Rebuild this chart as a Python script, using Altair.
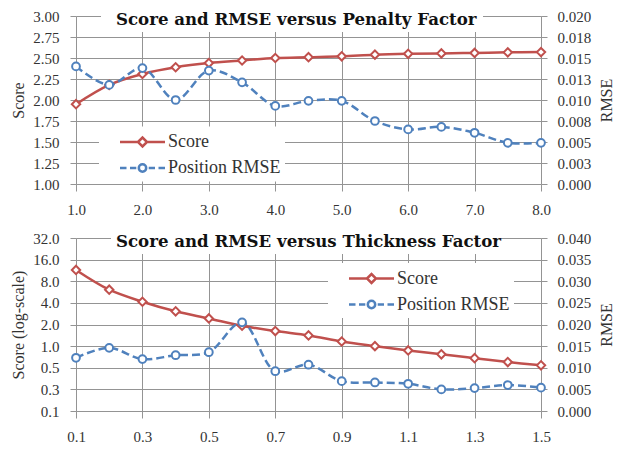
import altair as alt
import pandas as pd

# ---------------- data ----------------
series_names = ["Score", "Position RMSE"]

penalty = [1.0, 1.5, 2.0, 2.5, 3.0, 3.5, 4.0, 4.5, 5.0, 5.5, 6.0, 6.5, 7.0, 7.5, 8.0]
penalty_score = [1.95, 2.18, 2.31, 2.39, 2.44, 2.47, 2.50, 2.51, 2.52, 2.54, 2.55, 2.555, 2.56, 2.567, 2.57]
penalty_rmse = [0.0140, 0.0118, 0.0138, 0.0100, 0.0135, 0.0121, 0.0093, 0.0099, 0.0099,
                0.0075, 0.0065, 0.0068, 0.0061, 0.0049, 0.0049]

thickness = [0.1, 0.2, 0.3, 0.4, 0.5, 0.6, 0.7, 0.8, 0.9, 1.0, 1.1, 1.2, 1.3, 1.4, 1.5]
thickness_score = [11.5, 6.1, 4.15, 3.05, 2.43, 1.92, 1.62, 1.41, 1.16, 1.0, 0.87, 0.77, 0.68, 0.60, 0.54]
thickness_rmse = [0.0123, 0.0146, 0.0120, 0.0129, 0.0136, 0.0205, 0.0092, 0.0107, 0.0069,
                  0.0066, 0.0063, 0.0050, 0.0053, 0.0060, 0.0054]

penalty_ticks = [1, 2, 3, 4, 5, 6, 7, 8]
penalty_score_ticks = [1.0, 1.25, 1.5, 1.75, 2.0, 2.25, 2.5, 2.75, 3.0]
penalty_rmse_ticks = [0.0, 0.0025, 0.005, 0.0075, 0.01, 0.0125, 0.015, 0.0175, 0.02]

thickness_ticks = [0.1, 0.3, 0.5, 0.7, 0.9, 1.1, 1.3, 1.5]
thickness_score_ticks = [0.125, 0.25, 0.5, 1, 2, 4, 8, 16, 32]
thickness_rmse_ticks = [0.0, 0.005, 0.01, 0.015, 0.02, 0.025, 0.03, 0.035, 0.04]

# ---------------- style ----------------
RED = "#c0504d"
BLUE = "#4f81bd"
GRID = "#949494"
TXT = "#333333"
SERIF = "Liberation Serif"

# legend symbols: line + marker drawn as custom paths (unit = 10px at size 400)
SCORE_SYM = "M-2.25,0L-0.45,0M0.45,0L2.25,0M-0.45,0L0,-0.45L0.45,0L0,0.45Z"
RMSE_SYM = ("M-2.25,0L-1.6,0M-1.25,0L-0.62,0M0.62,0L1.25,0M1.6,0L2.25,0"
            "M-0.37,0A0.37,0.37 0 1,1 0.37,0A0.37,0.37 0 1,1 -0.37,0Z")


def panel(xv, score, rmse, xdomain, xticks, sdomain, sticks, stype, stitle,
          rdomain, rticks, title, lx, ly, rect_x0, rect_x1, h):
    df = pd.DataFrame({"x": xv, "score": score, "rmse": rmse})
    base = alt.Chart(df)

    xenc = alt.X("x:Q",
                 scale=alt.Scale(domain=xdomain, nice=False, zero=False),
                 axis=alt.Axis(values=xticks, format=".1f", title=None, grid=True,
                               gridColor=GRID, tickColor=GRID, tickSize=7,
                               labelPadding=11, domain=False, labelFont=SERIF,
                               labelFontSize=15, labelColor=TXT, labelFlush=False))
    if stype == "log":
        sscale = alt.Scale(type="log", base=2, domain=sdomain, nice=False)
    else:
        sscale = alt.Scale(domain=sdomain, nice=False, zero=False)
    yscore = alt.Y("score:Q", scale=sscale,
                   axis=alt.Axis(orient="left", values=sticks,
                                 format=".1f" if stype == "log" else ".2f",
                                 title=stitle, grid=True, gridColor=GRID,
                                 tickColor=GRID, tickSize=6, labelPadding=11,
                                 titlePadding=6, domain=False, labelFont=SERIF,
                                 labelFontSize=15, labelColor=TXT, titleFont=SERIF,
                                 titleFontSize=16, titleFontWeight="normal",
                                 titleColor=TXT, labelFlush=False))
    yrmse = alt.Y("rmse:Q", scale=alt.Scale(domain=rdomain, nice=False, zero=False),
                  axis=alt.Axis(orient="right", values=rticks,
                                labelExpr="format(datum.value + 1e-9, '.3f')",
                                title="RMSE", grid=False, tickColor=GRID, tickSize=6,
                                labelPadding=10, titlePadding=8, domain=False,
                                labelFont=SERIF, labelFontSize=15, labelColor=TXT,
                                titleFont=SERIF, titleFontSize=16,
                                titleFontWeight="normal", titleColor=TXT,
                                titleAngle=270, titleBaseline="top", labelFlush=False))

    mask = alt.Chart(pd.DataFrame({"k": [0]})).mark_rect(color="white").encode(
        x=alt.value(rect_x0), x2=alt.value(rect_x1), y=alt.value(-3), y2=alt.value(16))

    s_line = base.mark_line(color=RED, strokeWidth=2.5, interpolate="catmull-rom").encode(x=xenc, y=yscore)
    s_pts = base.mark_point(shape="diamond", size=70, filled=True, fill="white", stroke=RED,
                            strokeWidth=2, opacity=1).encode(x=xenc, y=yscore)
    r_line = base.mark_line(color=BLUE, strokeWidth=2.5, strokeDash=[8, 4],
                            interpolate="catmull-rom").encode(x=xenc, y=yrmse)
    r_pts = base.mark_point(shape="circle", size=60, filled=True, fill="white", stroke=BLUE,
                            strokeWidth=2, opacity=1).encode(x=xenc, y=yrmse)

    leg = alt.Legend(orient="none", legendX=lx, legendY=ly, title=None, fillColor="white",
                     padding=4, symbolSize=400, symbolStrokeWidth=2.5, symbolOffset=28,
                     labelOffset=14, labelFont=SERIF, labelFontSize=18, labelColor=TXT,
                     rowPadding=5, labelLimit=300,
                     labelExpr="datum.label + '\u00a0\u00a0\u00a0\u00a0'")
    carrier = alt.Chart(pd.DataFrame({"series": series_names})).mark_point(opacity=0).encode(
        color=alt.Color("series:N", scale=alt.Scale(domain=series_names, range=[RED, BLUE]), legend=leg),
        shape=alt.Shape("series:N", scale=alt.Scale(domain=series_names, range=[SCORE_SYM, RMSE_SYM]), legend=leg),
    )

    score_layer = alt.layer(s_line, s_pts)
    rmse_layer = alt.layer(r_line, r_pts)

    return alt.layer(mask, score_layer, rmse_layer, carrier).resolve_scale(
        y="independent").properties(
        width=465, height=h,
        title=alt.TitleParams(title, anchor="start", frame="group", dx=40, offset=-20,
                              font="DejaVu Serif", fontSize=16.6, fontWeight="bold",
                              color="#111111"))


top = panel(penalty, penalty_score, penalty_rmse, [1, 8], penalty_ticks, [1, 3],
            penalty_score_ticks, "linear", "Score", [0, 0.02], penalty_rmse_ticks,
            "Score and RMSE versus Penalty Factor", 23, 110.5, 25, 407, 168)
bottom = panel(thickness, thickness_score, thickness_rmse, [0.1, 1.5], thickness_ticks,
               [0.125, 32], thickness_score_ticks, "log", "Score (log-scale)", [0, 0.04],
               thickness_rmse_ticks, "Score and RMSE versus Thickness Factor", 252, 25, 35, 425, 173)

chart = alt.vconcat(top, bottom, spacing=12).resolve_scale(
    color="independent", shape="independent").resolve_legend(
    color="independent", shape="independent").properties(
    padding={"left": 2, "top": 0, "right": 2, "bottom": 0}
).configure_view(strokeWidth=0).configure(background="white")

chart.save("out.html", embed_options={"renderer": "svg", "actions": False})
